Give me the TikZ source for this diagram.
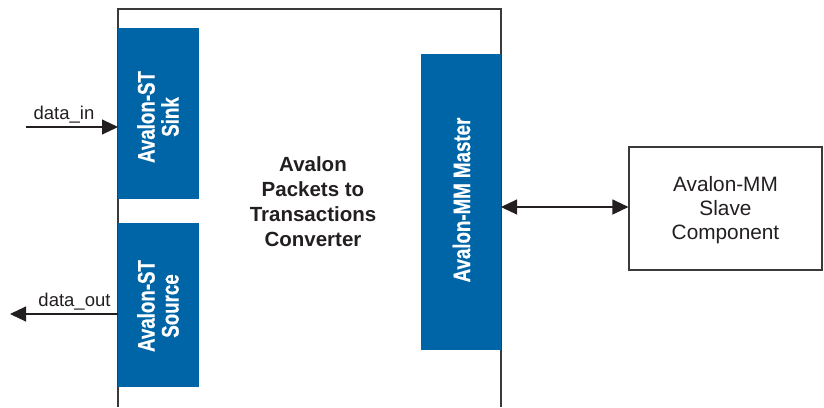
\documentclass[tikz,border=0pt]{standalone}
\usepackage{fontspec}
\setmainfont{Liberation Sans}
\newfontfamily\condfont[FakeStretch=0.78, BoldFeatures={FakeBold=0.5}]{Liberation Sans}
\usetikzlibrary{arrows.meta}
\definecolor{avblue}{HTML}{0065A6}
\definecolor{lineg}{HTML}{3A3A3A}
\definecolor{txt}{HTML}{231F20}
\tikzset{
  bluebox/.style={fill=avblue, draw=none, inner sep=0pt, outer sep=0pt},
  bluelbl/.style={text=white, rotate=90, align=center, inner sep=0pt,
    font=\condfont\bfseries\fontsize{24}{24}\selectfont},
  conn/.style={draw=txt, line width=1.1pt, -{Triangle[length=16pt,width=15pt]}},
  conn2/.style={draw=txt, line width=1.1pt, {Triangle[length=16pt,width=15pt]}-{Triangle[length=16pt,width=15pt]}},
  plain/.style={text=txt, inner sep=0pt, font=\fontsize{18.5}{22}\selectfont},
}
\begin{document}
\begin{tikzpicture}[x=1pt,y=-1pt]
\useasboundingbox (0,0) rectangle (824,407);
% main open box
\draw[lineg, line width=1.1pt] (118,407) -- (118,9) -- (501,9) -- (501,407);
% blue boxes
\node[bluebox, minimum width=81pt, minimum height=171pt] (sink) at (158.5,113.5) {};
\node[bluebox, minimum width=81pt, minimum height=164pt] (source) at (158.5,305) {};
\node[bluebox, minimum width=80pt, minimum height=296pt] (master) at (461,202) {};
\node[bluelbl] (sinklbl) at (158,117) {Avalon-ST\\Sink};
\node[bluelbl] (sourcelbl) at (158,306) {Avalon-ST\\Source};
\node[bluelbl] (masterlbl) at (461.5,200) {Avalon-MM Master};
% centre text
\node[text=txt, align=center, inner sep=0pt, font=\bfseries\fontsize{20.5}{25}\selectfont] (conv) at (313,201.5)
  {Avalon\\Packets to\\Transactions\\Converter};
% slave component
\node[draw=lineg, line width=1.1pt, minimum width=193pt, minimum height=123pt, inner sep=0pt] (slave) at (725.5,208.5) {};
\node[text=txt, align=center, inner sep=0pt, font=\fontsize{20.8}{24}\selectfont] (slavelbl) at (725.5,210.5)
  {Avalon-MM\\Slave\\Component};
% connectors
\coordinate (din) at (26,127);
\coordinate (dout) at (10,314);
\coordinate (mm) at (565,207);
\draw[conn] (din) -- (din -| sink.west);
\draw[conn] (dout -| source.west) -- (dout);
\draw[conn2] (mm -| master.east) -- (mm -| slave.west);
\node[plain, anchor=base] (dinlbl) at (64,119) {data\_in};
\node[plain, anchor=base] (doutlbl) at (74.5,306) {data\_out};
\end{tikzpicture}
\end{document}
